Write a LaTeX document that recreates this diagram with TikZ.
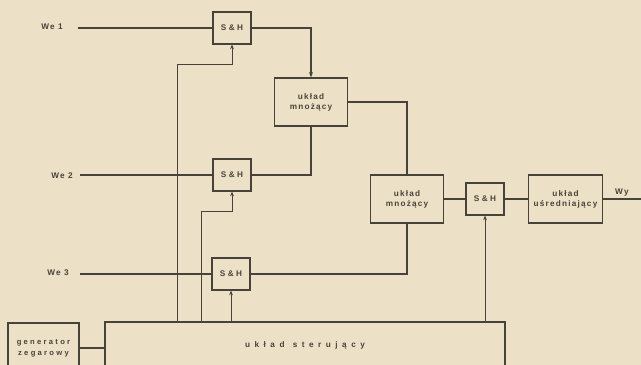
\documentclass[tikz,border=0pt]{standalone}
\usepackage{fontspec}
\newfontfamily\boxfont[LetterSpace=15]{Liberation Sans}
\newfontfamily\shfont[LetterSpace=30]{Liberation Sans}
\newfontfamily\genfont[LetterSpace=30]{Liberation Sans}
\newfontfamily\widefont[LetterSpace=55]{Liberation Sans}
\usetikzlibrary{positioning,arrows.meta,calc}
\definecolor{PaperBg}{RGB}{236,225,199}
\definecolor{InkGrey}{RGB}{72,67,58}
\tikzset{
  wire/.style={draw=InkGrey,line width=0.9pt},
  flow/.style={-{Stealth[length=1.6mm,width=1.2mm]},draw=InkGrey,line width=0.9pt},
  clockline/.style={-{Stealth[length=1.4mm,width=1.1mm]},draw=InkGrey,line width=0.75pt},
  shbox/.style={draw=InkGrey,line width=1pt,text=InkGrey,minimum width=1.14cm,
    minimum height=0.96cm,inner sep=0pt,font=\shfont\bfseries\fontsize{7}{8}\selectfont},
  unitbox/.style={draw=InkGrey,line width=1pt,text=InkGrey,minimum width=2.17cm,
    minimum height=1.44cm,inner sep=0pt,align=center,
    font=\boxfont\bfseries\fontsize{7}{8.5}\selectfont},
  inlabel/.style={text=InkGrey,inner sep=1pt,font=\boxfont\bfseries\fontsize{7}{8}\selectfont}
}
\begin{document}
\begin{tikzpicture}[x=0.03cm,y=-0.03cm]
  \fill[PaperBg] (0,0) rectangle (641,365);
  \clip (0,0) rectangle (641,365);

  % sample and hold stages
  \node[shbox] (sh1) at (232,28) {S\&H};
  \node[shbox] (sh2) at (232,175) {S\&H};
  \node[shbox] (sh3) at (231,274) {S\&H};
  \node[shbox] (sh4) at (485,199) {S\&H};

  % multipliers and averaging
  \node[unitbox] (mult1) at (311,102) {układ\\mnożący};
  \node[unitbox] (mult2) at (407,199) {układ\\mnożący};
  \node[unitbox,minimum width=2.2cm] (avg) at (565.5,199) {układ\\uśredniający};

  % clock and control
  \node[draw=InkGrey,line width=1pt,text=InkGrey,minimum width=2.13cm,minimum height=1.5cm,
    inner sep=0pt,align=center,font=\genfont\bfseries\fontsize{6.5}{9.5}\selectfont] (gen) at (43.5,348) {generator\\zegarowy};
  \node[draw=InkGrey,line width=1pt,text=InkGrey,minimum width=12cm,minimum height=1.38cm,
    inner sep=0pt,font=\widefont\bfseries\fontsize{7}{8}\selectfont] (ctrl) at (305,345) {układ\quad sterujący};

  % inputs
  \node[inlabel] (in1) at (52,27) {We 1};
  \node[inlabel] (in2) at (62,176) {We 2};
  \node[inlabel] (in3) at (58,273) {We 3};
  \coordinate (in1e) at (78,28);
  \coordinate (in2e) at (80,175);
  \coordinate (in3e) at (80,274);
  \draw[wire] (in1e) -- (sh1.west);
  \draw[wire] (in2e) -- (sh2.west);
  \draw[wire] (in3e) -- (sh3.west);

  % signal path
  \draw[flow] (sh1.east) -| (mult1.north);
  \draw[wire] (sh2.east) -| (mult1.south);
  \draw[wire] (mult1.east) -| (mult2.north);
  \draw[wire] (sh3.east) -| (mult2.south);
  \draw[wire] (mult2.east) -- (sh4.west);
  \draw[wire] (sh4.east) -- (avg.west);
  \coordinate (out) at (641,198);
  \draw[wire] (avg.east) -- node[inlabel,above=1pt] (outlbl) {Wy} (avg.east -| out);

  % clock lines
  \draw[clockline] (ctrl.north -| 177,0) |- ($(sh1.south)+(0,20)$) -- (sh1.south);
  \draw[clockline] (ctrl.north -| 201,0) |- ($(sh2.south)+(0,20)$) -- (sh2.south);
  \draw[clockline] (ctrl.north -| sh3.south) -- (sh3.south);
  \draw[clockline] (ctrl.north -| sh4.south) -- (sh4.south);
  \draw[wire] (gen.east) -- (gen.east -| ctrl.west);
\end{tikzpicture}
\end{document}
